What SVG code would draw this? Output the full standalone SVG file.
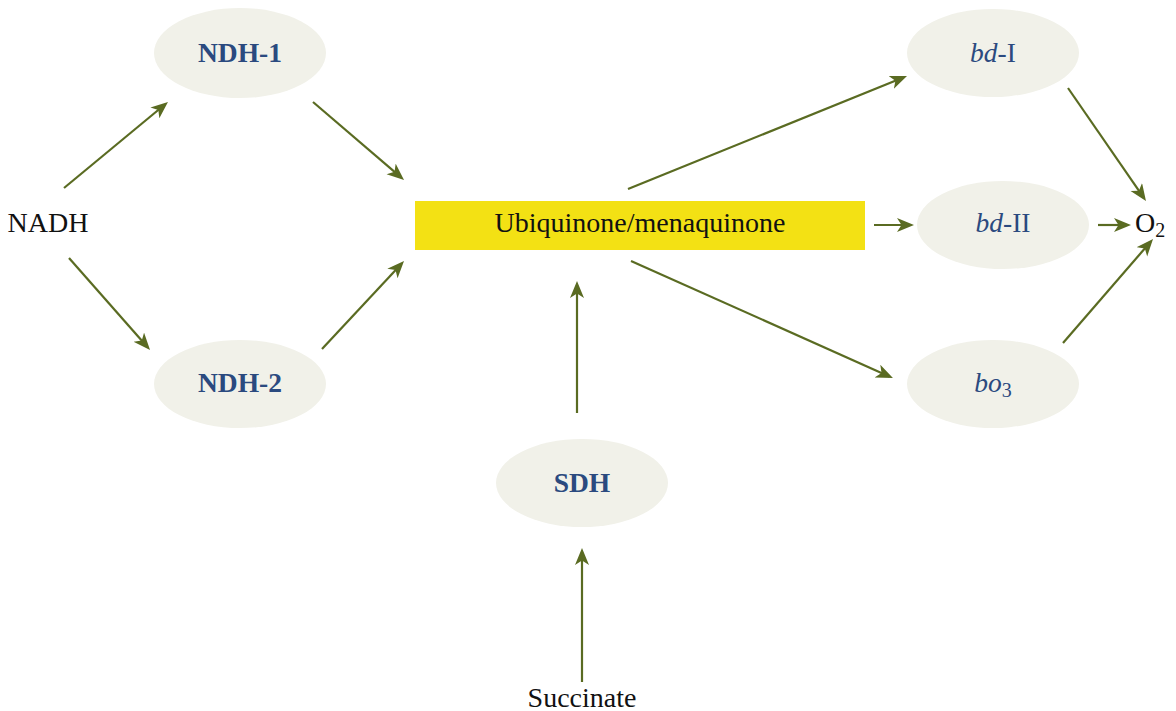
<svg xmlns="http://www.w3.org/2000/svg" width="1176" height="711" viewBox="0 0 1176 711">
<style>
.node{fill:#F1F1E9}
.lbl{font-family:"Liberation Serif","Times New Roman",serif;font-size:27.5px;fill:#2B4A7F;text-anchor:middle}
.b{font-weight:bold}
.plain{font-family:"Liberation Serif","Times New Roman",serif;font-size:28px;fill:#111;text-anchor:middle}
.start{text-anchor:start}
.con line{stroke:#5A6B22;stroke-width:2.2;marker-end:url(#ah)}
</style>
<defs>
<marker id="ah" markerUnits="userSpaceOnUse" markerWidth="20" markerHeight="16" refX="13" refY="7" orient="auto">
<path d="M0,0 L17,7 L0,14 L4.5,7 Z" fill="#5A6B22"/>
</marker>
</defs>
<rect width="1176" height="711" fill="#fff"/>
<g class="con">
<line x1="64" y1="188" x2="164.9" y2="104.5"/>
<line x1="313" y1="102" x2="401" y2="177.4"/>
<line x1="69" y1="258" x2="147.4" y2="347"/>
<line x1="322" y1="349" x2="401.3" y2="263.9"/>
<line x1="628" y1="189" x2="903.3" y2="77.5"/>
<line x1="874" y1="225" x2="910" y2="225"/>
<line x1="1098" y1="225" x2="1127" y2="225"/>
<line x1="1068" y1="88" x2="1143.7" y2="197.7"/>
<line x1="1063" y1="343" x2="1150.4" y2="242"/>
<line x1="631" y1="261" x2="889.3" y2="376.4"/>
<line x1="577" y1="413" x2="577" y2="285"/>
<line x1="582" y1="682" x2="582" y2="552"/>
</g>
<g id="nadh"><text class="plain" x="48" y="232">NADH</text></g>
<g id="ndh1"><ellipse class="node" cx="240" cy="53" rx="86" ry="45"/><text class="lbl b" x="240" y="62">NDH-1</text></g>
<g id="ndh2"><ellipse class="node" cx="240" cy="384" rx="86" ry="44"/><text class="lbl b" x="240" y="392">NDH-2</text></g>
<g id="quinone"><rect x="415" y="201" width="450" height="49" fill="#F3E114"/><text class="plain" x="640" y="232">Ubiquinone/menaquinone</text></g>
<g id="sdh"><ellipse class="node" cx="582" cy="483" rx="86" ry="44"/><text class="lbl b" x="582" y="492">SDH</text></g>
<g id="succinate"><text class="plain" x="582" y="707">Succinate</text></g>
<g id="bd1"><ellipse class="node" cx="993" cy="53" rx="86" ry="44"/><text class="lbl" x="993" y="62"><tspan font-style="italic">bd</tspan>-I</text></g>
<g id="bd2"><ellipse class="node" cx="1003" cy="225" rx="86" ry="44"/><text class="lbl" x="1003" y="232"><tspan font-style="italic">bd</tspan>-II</text></g>
<g id="bo3"><ellipse class="node" cx="993" cy="384" rx="86" ry="44"/><text class="lbl" x="993" y="392"><tspan font-style="italic">bo</tspan><tspan font-size="20" dy="5">3</tspan></text></g>
<g id="o2"><text class="plain start" x="1135" y="232">O<tspan font-size="20" dy="5">2</tspan></text></g>
</svg>
